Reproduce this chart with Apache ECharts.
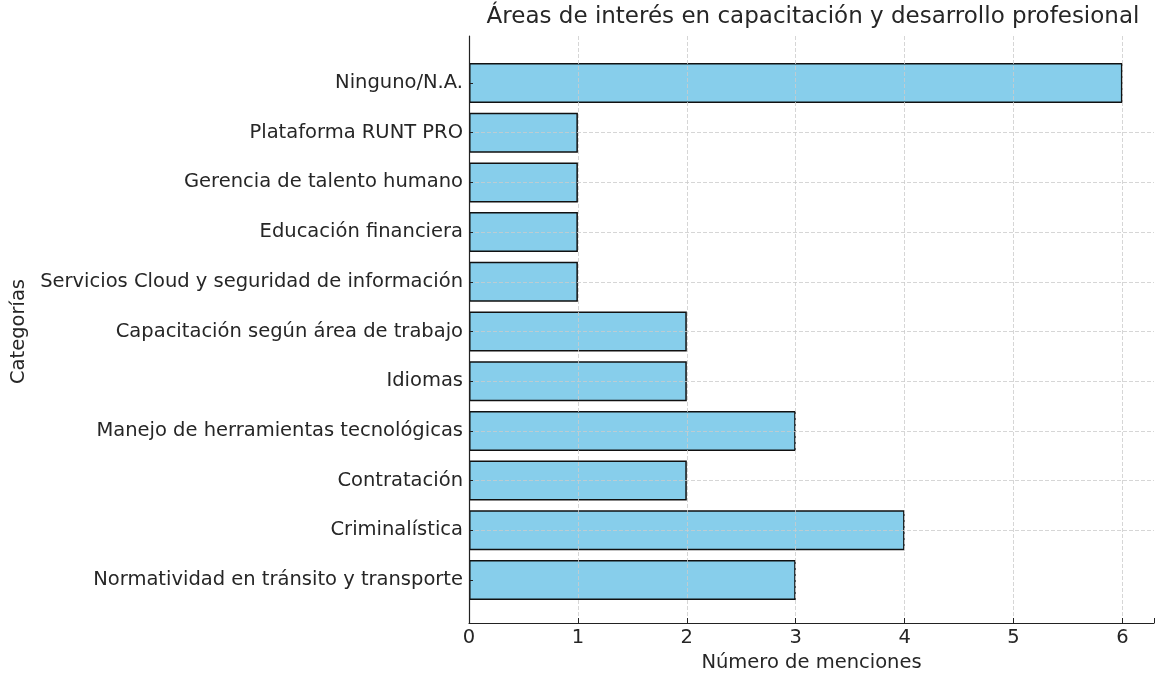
<!DOCTYPE html>
<html>
<head>
<meta charset="utf-8">
<script src="https://cdn.jsdelivr.net/npm/echarts@6/dist/echarts.min.js"></script>
<style>
  html, body { margin: 0; padding: 0; background: #fff; }
  #main { width: 1158px; height: 678px; }
</style>
</head>
<body>
<div id="main"></div>
<script>
var myChart = echarts.init(document.getElementById('main'));

// datos
var categorias = [
    'Ninguno/N.A.',
    'Plataforma RUNT PRO',
    'Gerencia de talento humano',
    'Educación financiera',
    'Servicios Cloud y seguridad de información',
    'Capacitación según área de trabajo',
    'Idiomas',
    'Manejo de herramientas tecnológicas',
    'Contratación',
    'Criminalística',
    'Normatividad en tránsito y transporte'
];
var menciones = [6, 1, 1, 1, 1, 2, 2, 3, 2, 4, 3];
var xTicks = [0, 1, 2, 3, 4, 5, 6];

var fuente = 'DejaVu Sans';
var gris = '#262626';
var rejilla = {
    show: true,
    showMinLine: false,
    showMaxLine: false,
    lineStyle: { color: '#cccccc', type: [4, 2], width: 0.8 }
};

option = {
    animation: false,
    title: {
        text: 'Áreas de interés en capacitación y desarrollo profesional',
        left: 808,
        top: 1,
        textAlign: 'center',
        textStyle: { fontFamily: fuente, fontSize: 23, fontWeight: 'normal', color: gris }
    },
    grid: [
        // marco completo: ejes y rejilla vertical
        { left: 469, right: 4, top: 36, bottom: 51 },
        // zona de barras (centros de categorias)
        { left: 469, right: 4, top: 83, bottom: 98 }
    ],
    xAxis: [
        {
            gridIndex: 0,
            type: 'value',
            min: 0,
            max: 6.29,
            interval: 1,
            z: 5,
            name: 'Número de menciones',
            nameLocation: 'middle',
            nameGap: 30,
            nameTextStyle: { fontFamily: fuente, fontSize: 19.5, color: gris },
            axisLine: { show: true, lineStyle: { color: '#222', width: 1.2 } },
            axisTick: { show: true, inside: true, length: 5, lineStyle: { color: '#222', width: 1 } },
            axisLabel: {
                fontFamily: fuente, fontSize: 19.5, color: gris, margin: 5,
                formatter: function (v) { return xTicks.indexOf(v) >= 0 ? String(v) : ''; }
            },
            splitLine: rejilla
        },
        {
            gridIndex: 1,
            type: 'value',
            min: 0,
            max: 6.29,
            show: false
        }
    ],
    yAxis: [
        {
            gridIndex: 0,
            type: 'value',
            z: 6,
            axisLine: { show: true, lineStyle: { color: '#222', width: 1.2 } },
            axisTick: { show: false },
            axisLabel: { show: false },
            splitLine: { show: false }
        },
        {
            gridIndex: 1,
            type: 'category',
            inverse: true,
            boundaryGap: false,
            data: categorias,
            z: 5,
            name: 'Categorías',
            nameLocation: 'middle',
            nameRotate: 90,
            nameGap: 439,
            nameTextStyle: { fontFamily: fuente, fontSize: 19.5, color: gris },
            axisLine: { show: false },
            axisTick: { show: true, inside: true, length: 4, lineStyle: { color: '#222', width: 1 } },
            axisLabel: { fontFamily: fuente, fontSize: 19.5, color: gris, margin: 6 },
            splitLine: rejilla
        }
    ],
    series: [
        {
            type: 'bar',
            xAxisIndex: 1,
            yAxisIndex: 1,
            data: menciones,
            barWidth: 40,
            itemStyle: { color: '#87ceeb', borderColor: '#111', borderWidth: 1.5 }
        }
    ]
};

myChart.setOption(option);
</script>
</body>
</html>
